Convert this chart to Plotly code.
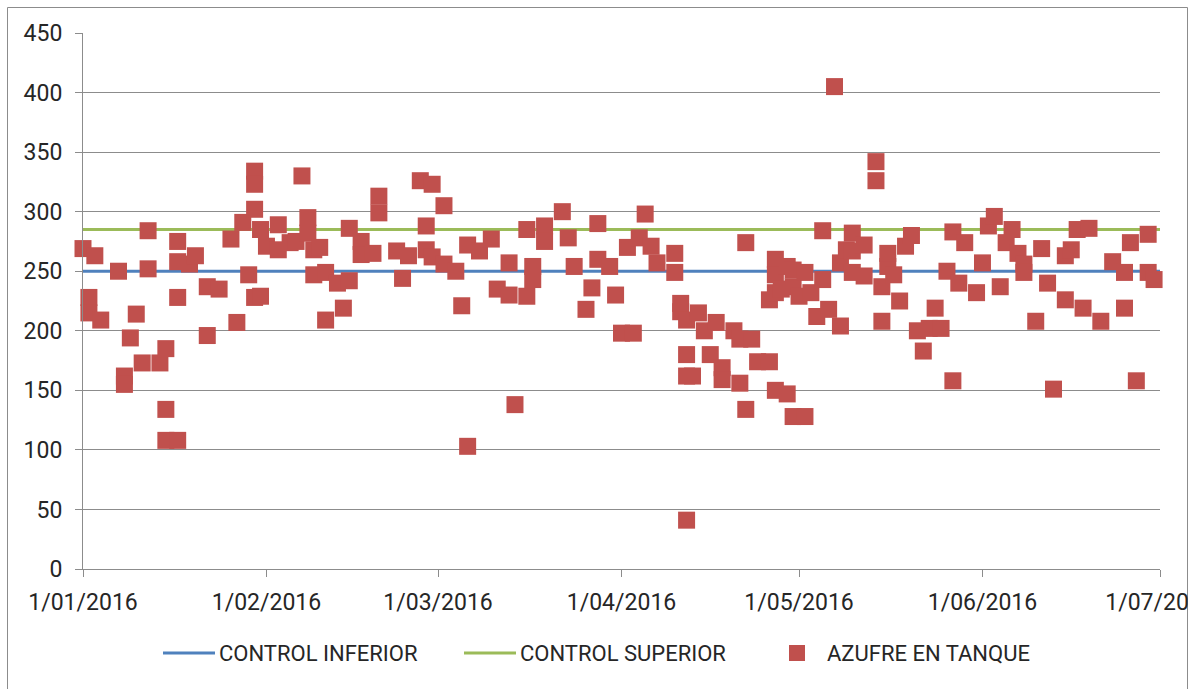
import plotly.graph_objects as go

# Mediciones diarias de azufre en tanque (ene-jun 2016)
fechas_ene = ["2016-01-01", "2016-01-02", "2016-01-02", "2016-01-03", "2016-01-04", "2016-01-07",
              "2016-01-08", "2016-01-08", "2016-01-09", "2016-01-10", "2016-01-11", "2016-01-12",
              "2016-01-12", "2016-01-14", "2016-01-15", "2016-01-15", "2016-01-15", "2016-01-17",
              "2016-01-17", "2016-01-17", "2016-01-17", "2016-01-19", "2016-01-20", "2016-01-22",
              "2016-01-22", "2016-01-24", "2016-01-26", "2016-01-27", "2016-01-28", "2016-01-29",
              "2016-01-30", "2016-01-30", "2016-01-30", "2016-01-30", "2016-01-31", "2016-01-31"]
azufre_ene = [269, 228, 215, 263, 209, 250,
              162, 155, 194, 214, 173, 284,
              252, 173, 108, 185, 134, 108,
              258, 228, 275, 256, 263, 237,
              196, 235, 277, 207, 291, 247,
              334, 323, 302, 228, 285, 229]

fechas_feb = ["2016-02-01", "2016-02-03", "2016-02-03", "2016-02-05", "2016-02-06", "2016-02-07",
              "2016-02-08", "2016-02-08", "2016-02-09", "2016-02-09", "2016-02-10", "2016-02-11",
              "2016-02-11", "2016-02-13", "2016-02-14", "2016-02-15", "2016-02-15", "2016-02-17",
              "2016-02-17", "2016-02-19", "2016-02-20", "2016-02-20", "2016-02-23", "2016-02-24",
              "2016-02-25", "2016-02-27", "2016-02-28", "2016-02-28", "2016-02-29", "2016-02-29"]
azufre_feb = [271, 289, 268, 274, 275, 330,
              295, 282, 268, 247, 270, 249,
              209, 240, 219, 242, 286, 275,
              264, 265, 313, 299, 267, 244,
              263, 326, 288, 268, 323, 262]

fechas_mar = ["2016-03-02", "2016-03-02", "2016-03-04", "2016-03-05", "2016-03-06", "2016-03-06",
              "2016-03-08", "2016-03-10", "2016-03-11", "2016-03-13", "2016-03-13", "2016-03-14",
              "2016-03-16", "2016-03-16", "2016-03-17", "2016-03-17", "2016-03-19", "2016-03-19",
              "2016-03-22", "2016-03-23", "2016-03-24", "2016-03-26", "2016-03-27", "2016-03-28",
              "2016-03-28", "2016-03-30", "2016-03-31"]
azufre_mar = [305, 256, 250, 221, 103, 272,
              267, 277, 235, 257, 230, 138,
              229, 285, 254, 243, 288, 275,
              300, 278, 254, 218, 236, 290,
              260, 254, 230]

fechas_abr = ["2016-04-01", "2016-04-02", "2016-04-03", "2016-04-04", "2016-04-05", "2016-04-06",
              "2016-04-07", "2016-04-10", "2016-04-10", "2016-04-11", "2016-04-11", "2016-04-12",
              "2016-04-12", "2016-04-12", "2016-04-12", "2016-04-13", "2016-04-14", "2016-04-15",
              "2016-04-16", "2016-04-17", "2016-04-18", "2016-04-18", "2016-04-20", "2016-04-21",
              "2016-04-21", "2016-04-22", "2016-04-22", "2016-04-23", "2016-04-24", "2016-04-26",
              "2016-04-26", "2016-04-27", "2016-04-27", "2016-04-27", "2016-04-27", "2016-04-28",
              "2016-04-29", "2016-04-29", "2016-04-30", "2016-04-30", "2016-04-30"]
azufre_abr = [198, 270, 198, 278, 298, 271,
              257, 265, 249, 216, 223, 180,
              162, 41, 209, 162, 215, 200,
              180, 207, 169, 159, 200, 156,
              193, 134, 274, 193, 174, 174,
              226, 260, 247, 232, 150, 235,
              254, 147, 251, 237, 128]

fechas_may = ["2016-05-01", "2016-05-02", "2016-05-02", "2016-05-03", "2016-05-04", "2016-05-05",
              "2016-05-05", "2016-05-06", "2016-05-07", "2016-05-08", "2016-05-08", "2016-05-09",
              "2016-05-10", "2016-05-10", "2016-05-10", "2016-05-12", "2016-05-12", "2016-05-14",
              "2016-05-14", "2016-05-15", "2016-05-15", "2016-05-16", "2016-05-16", "2016-05-17",
              "2016-05-18", "2016-05-19", "2016-05-20", "2016-05-21", "2016-05-22", "2016-05-23",
              "2016-05-24", "2016-05-25", "2016-05-26", "2016-05-27", "2016-05-27", "2016-05-28",
              "2016-05-29", "2016-05-31"]
azufre_may = [229, 128, 249, 232, 212, 284,
              243, 218, 405, 257, 204, 268,
              282, 267, 249, 272, 246, 342,
              326, 237, 208, 254, 265, 247,
              225, 271, 280, 200, 183, 202,
              219, 202, 250, 283, 158, 240,
              274, 232]

fechas_jun = ["2016-06-01", "2016-06-02", "2016-06-03", "2016-06-04", "2016-06-05", "2016-06-06",
              "2016-06-07", "2016-06-08", "2016-06-08", "2016-06-10", "2016-06-11", "2016-06-12",
              "2016-06-13", "2016-06-15", "2016-06-15", "2016-06-16", "2016-06-17", "2016-06-18",
              "2016-06-19", "2016-06-21", "2016-06-23", "2016-06-25", "2016-06-25", "2016-06-26",
              "2016-06-27", "2016-06-29", "2016-06-29", "2016-06-30"]
azufre_jun = [257, 288, 296, 237, 274, 285,
              265, 256, 249, 208, 269, 240,
              151, 226, 263, 268, 285, 219,
              286, 208, 258, 249, 219, 274,
              158, 281, 249, 243]

# Límites de control
periodo = ["2016-01-01", "2016-07-01"]
control_inferior = 250
control_superior = 285

fechas = fechas_ene + fechas_feb + fechas_mar + fechas_abr + fechas_may + fechas_jun
azufre = azufre_ene + azufre_feb + azufre_mar + azufre_abr + azufre_may + azufre_jun

AZUL = "#4F81BD"
VERDE = "#9BBB59"
ROJO = "#C0504D"
GRIS = "#8C8C8C"
TEXTO = "#262626"
FUENTE = "Roboto"

fig = go.Figure()
fig.add_trace(go.Scatter(x=periodo, y=[control_inferior] * 2, mode="lines",
                         line=dict(color=AZUL, width=3), name="CONTROL INFERIOR",
                         showlegend=False))
fig.add_trace(go.Scatter(x=periodo, y=[control_superior] * 2, mode="lines",
                         line=dict(color=VERDE, width=3), name="CONTROL SUPERIOR",
                         showlegend=False))
fig.add_trace(go.Scatter(x=fechas, y=azufre, mode="markers",
                         marker=dict(symbol="square", size=17, color=ROJO, line=dict(width=0)),
                         name="AZUFRE EN TANQUE", showlegend=False, cliponaxis=False))

# Área de trazado en píxeles
L, R, T, B = 83, 1160, 33, 569


def px(x):
    return (x - L) / (R - L)


def py(y):
    return (B - y) / (B - T)


shapes = [
    # marco del gráfico
    dict(type="rect", xref="paper", yref="paper", x0=px(7.5), x1=px(1187.5),
         y0=py(695), y1=py(7.5), line=dict(color=GRIS, width=1), layer="below"),
    # la etiqueta final queda recortada por el marco
    dict(type="rect", xref="paper", yref="paper", x0=px(1188.2), x1=px(1200),
         y0=py(695), y1=py(-5), fillcolor="white", line=dict(width=0), layer="above"),
]

# Leyenda
ley_y = 653
leyenda = [
    ("line", AZUL, 163, 215, 218, "CONTROL INFERIOR"),
    ("line", VERDE, 464, 516, 519, "CONTROL SUPERIOR"),
    ("square", ROJO, 789, 805, 826, "AZUFRE EN TANQUE"),
]
annotations = []
for tipo, color, a, b, xt, texto in leyenda:
    if tipo == "line":
        shapes.append(dict(type="line", xref="paper", yref="paper", x0=px(a), x1=px(b),
                           y0=py(ley_y), y1=py(ley_y), line=dict(color=color, width=3)))
    else:
        shapes.append(dict(type="rect", xref="paper", yref="paper", x0=px(a), x1=px(b),
                           y0=py(ley_y + 8), y1=py(ley_y - 8), fillcolor=color,
                           line=dict(width=0)))
    annotations.append(dict(text=texto, xref="paper", yref="paper", x=px(xt), y=py(ley_y),
                            xanchor="left", yanchor="middle", showarrow=False,
                            font=dict(family=FUENTE, size=22, color=TEXTO), borderpad=0))

fig.update_layout(
    width=1194, height=689,
    margin=dict(l=L, r=1194 - R, t=T, b=689 - B, autoexpand=False),
    paper_bgcolor="white", plot_bgcolor="white",
    showlegend=False,
    shapes=shapes, annotations=annotations,
    font=dict(family=FUENTE, size=23, color=TEXTO),
    xaxis=dict(
        type="date", range=periodo, dtick="M1", tick0="2016-01-01",
        tickformat="%-d/%m/%Y", showgrid=False, zeroline=False,
        showline=True, linecolor=GRIS, linewidth=1,
        ticks="outside", ticklen=7, tickcolor=GRIS, tickwidth=1,
        ticklabeloverflow="allow", ticklabelstandoff=5,
        tickfont=dict(family=FUENTE, size=23, color=TEXTO),
    ),
    yaxis=dict(
        range=[0, 450], dtick=50, tick0=0,
        showgrid=True, gridcolor=GRIS, gridwidth=1, zeroline=False,
        showline=True, linecolor=GRIS, linewidth=1,
        ticks="outside", ticklen=7, tickcolor=GRIS, tickwidth=1,
        ticklabelstandoff=8,
        tickfont=dict(family=FUENTE, size=23, color=TEXTO),
    ),
)

fig.write_html("out.html")
